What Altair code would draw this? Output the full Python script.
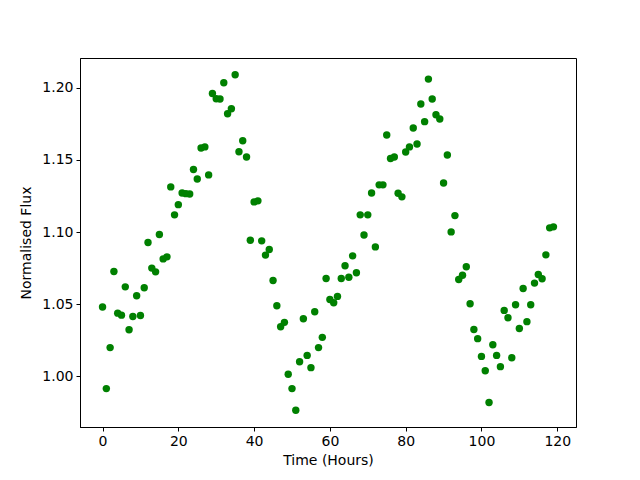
import altair as alt
import pandas as pd

time_hours = list(range(120))
flux = [
    1.0480, 0.9915, 1.0199, 1.0727, 1.0438, 1.0424, 1.0620, 1.0323, 1.0415, 1.0558,
    1.0422, 1.0614, 1.0927, 1.0750, 1.0724, 1.0983, 1.0814, 1.0828, 1.1313, 1.1119,
    1.1190, 1.1271, 1.1266, 1.1264, 1.1433, 1.1368, 1.1583, 1.1590, 1.1396, 1.1960,
    1.1924, 1.1922, 1.2035, 1.1820, 1.1855, 1.2090, 1.1557, 1.1633, 1.1520, 1.0943,
    1.1209, 1.1216, 1.0939, 1.0840, 1.0879, 1.0664, 1.0489, 1.0344, 1.0374, 1.0014,
    0.9915, 0.9765, 1.0101, 1.0399, 1.0145, 1.0060, 1.0448, 1.0199, 1.0270, 1.0678,
    1.0533, 1.0510, 1.0554, 1.0678, 1.0766, 1.0687, 1.0835, 1.0718, 1.1119, 1.0980,
    1.1119, 1.1271, 1.0897, 1.1327, 1.1327, 1.1673, 1.1510, 1.1520, 1.1269, 1.1244,
    1.1555, 1.1590, 1.1721, 1.1610, 1.1887, 1.1765, 1.2060, 1.1922, 1.1813, 1.1783,
    1.1340, 1.1534, 1.1001, 1.1114, 1.0671, 1.0701, 1.0759, 1.0503, 1.0325, 1.0261,
    1.0138, 1.0039, 0.9818, 1.0219, 1.0145, 1.0067, 1.0457, 1.0406, 1.0129, 1.0496,
    1.0332, 1.0609, 1.0379, 1.0496, 1.0646, 1.0706, 1.0676, 1.0842, 1.1029, 1.1036,
]
x_ticks = [0, 20, 40, 60, 80, 100, 120]
y_ticks = [1.00, 1.05, 1.10, 1.15, 1.20]

df = pd.DataFrame({"t": time_hours, "flux": flux})

fmin, fmax = min(flux), max(flux)
ym = (fmax - fmin) * 0.05
xm = (max(time_hours) - min(time_hours)) * 0.05

font = "DejaVu Sans"
axis_common = dict(
    grid=False,
    domainColor="black",
    tickColor="black",
    tickSize=4,
    tickWidth=1,
    labelFont=font,
    labelFontSize=14,
    labelColor="black",
    labelPadding=3,
    titleFont=font,
    titleFontSize=14,
    titleFontWeight="normal",
    titleColor="black",
)

chart = alt.Chart(df).mark_circle(size=55, color="#008000", opacity=1).encode(
    x=alt.X(
        "t:Q",
        title="Time (Hours)",
        scale=alt.Scale(domain=[min(time_hours) - xm, max(time_hours) + xm], nice=False, zero=False),
        axis=alt.Axis(values=x_ticks, format="d", labelFlush=False, titlePadding=5, **axis_common),
    ),
    y=alt.Y(
        "flux:Q",
        title="Normalised Flux",
        scale=alt.Scale(domain=[fmin - ym, fmax + ym], nice=False, zero=False),
        axis=alt.Axis(values=y_ticks, format=".2f", labelFlush=False, titlePadding=8, **axis_common),
    ),
).properties(
    width=496,
    height=369,
    autosize=alt.AutoSizeParams(type="none"),
    padding={"left": 72, "top": 50, "right": 56, "bottom": 45},
).configure_view(stroke="black", strokeWidth=1)

chart.save("out.html", embed_options={"renderer": "svg", "actions": False})
